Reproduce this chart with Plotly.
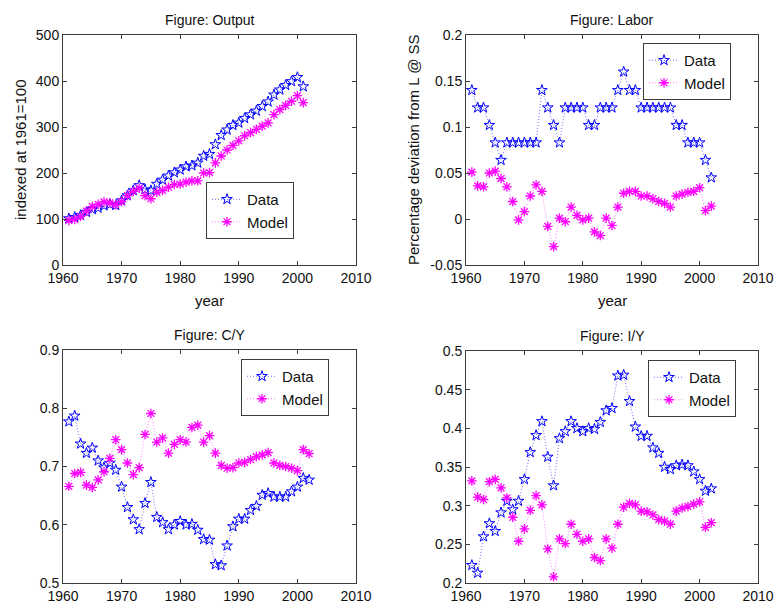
import plotly.graph_objects as go

# ---------------- data ----------------
years_out = list(range(1961, 2002))
output_data = [101, 104, 108, 115, 121, 124, 129, 132, 130, 140, 151, 162, 173, 164, 162,
               176, 185, 194, 201, 207, 214, 216, 222, 237, 241, 262, 282, 294, 304, 309,
               319, 327, 335, 345, 355, 370, 381, 391, 399, 408, 388]
output_model = [97, 99, 106, 117, 127, 132, 137, 135, 131, 138, 151, 160, 167, 151, 144,
                158, 162, 169, 175, 176, 180, 183, 183, 200, 201, 222, 237, 250, 260, 270,
                281, 288, 295, 302, 309, 327, 338, 347, 356, 368, 353]

years = list(range(1961, 2003))
labor_data = [0.140, 0.121, 0.121, 0.102, 0.083, 0.064, 0.083, 0.083, 0.083, 0.083, 0.083,
              0.083, 0.140, 0.121, 0.102, 0.083, 0.121, 0.121, 0.121, 0.121, 0.102, 0.102,
              0.121, 0.121, 0.121, 0.140, 0.160, 0.140, 0.140, 0.121, 0.121, 0.121, 0.121,
              0.121, 0.121, 0.102, 0.102, 0.083, 0.083, 0.083, 0.064, 0.045]
labor_model = [0.051, 0.036, 0.035, 0.050, 0.052, 0.044, 0.035, 0.019, -0.001, 0.008, 0.025,
               0.037, 0.030, -0.008, -0.030, 0.001, -0.003, 0.013, 0.004, -0.001, 0.001,
               -0.014, -0.018, 0.001, -0.007, 0.013, 0.028, 0.030, 0.030, 0.025, 0.025,
               0.022, 0.019, 0.017, 0.013, 0.025, 0.027, 0.029, 0.030, 0.034, 0.009, 0.014]

cy_data = [0.777, 0.787, 0.739, 0.723, 0.732, 0.710, 0.698, 0.706, 0.694, 0.665, 0.630,
           0.609, 0.592, 0.637, 0.673, 0.613, 0.604, 0.592, 0.600, 0.606, 0.600, 0.601,
           0.591, 0.575, 0.574, 0.532, 0.530, 0.564, 0.597, 0.610, 0.610, 0.625, 0.632,
           0.651, 0.654, 0.648, 0.648, 0.648, 0.657, 0.665, 0.680, 0.677]
cy_model = [0.666, 0.688, 0.690, 0.668, 0.664, 0.677, 0.691, 0.714, 0.746, 0.729, 0.706,
            0.686, 0.698, 0.755, 0.791, 0.742, 0.749, 0.723, 0.738, 0.746, 0.742, 0.767,
            0.771, 0.742, 0.753, 0.723, 0.702, 0.697, 0.698, 0.706, 0.707, 0.712, 0.717,
            0.720, 0.724, 0.706, 0.702, 0.700, 0.697, 0.693, 0.729, 0.722]

iy_data = [0.223, 0.213, 0.260, 0.277, 0.267, 0.291, 0.306, 0.295, 0.306, 0.334, 0.369,
           0.391, 0.409, 0.363, 0.326, 0.387, 0.396, 0.409, 0.400, 0.396, 0.400, 0.399,
           0.408, 0.423, 0.426, 0.468, 0.469, 0.435, 0.402, 0.390, 0.390, 0.375, 0.368,
           0.350, 0.347, 0.352, 0.353, 0.352, 0.344, 0.334, 0.319, 0.322]
iy_model = [0.332, 0.311, 0.308, 0.331, 0.334, 0.323, 0.310, 0.285, 0.254, 0.270, 0.294,
            0.313, 0.301, 0.244, 0.208, 0.257, 0.251, 0.276, 0.263, 0.254, 0.257, 0.233,
            0.229, 0.257, 0.245, 0.276, 0.298, 0.303, 0.301, 0.293, 0.292, 0.288, 0.282,
            0.280, 0.276, 0.293, 0.297, 0.299, 0.302, 0.305, 0.272, 0.278]

x_ticks = [1960, 1970, 1980, 1990, 2000, 2010]
x_ticklabels = ["1960", "1970", "1980", "1990", "2000", "2010"]
out_ticks = [0, 100, 200, 300, 400, 500]
out_ticklabels = ["0", "100", "200", "300", "400", "500"]
labor_ticks = [-0.05, 0, 0.05, 0.1, 0.15, 0.2]
labor_ticklabels = ["-0.05", "0", "0.05", "0.1", "0.15", "0.2"]
cy_ticks = [0.5, 0.6, 0.7, 0.8, 0.9]
cy_ticklabels = ["0.5", "0.6", "0.7", "0.8", "0.9"]
iy_ticks = [0.2, 0.25, 0.3, 0.35, 0.4, 0.45, 0.5]
iy_ticklabels = ["0.2", "0.25", "0.3", "0.35", "0.4", "0.45", "0.5"]

titles = ["Figure: Output", "Figure: Labor", "Figure: C/Y", "Figure: I/Y"]

# ---------------- figure ----------------
W, H = 780, 610
FONT = "Liberation Sans, Arial, sans-serif"
AX = "#3c3c3c"
TXT = "#111111"
BLUE = "#0000ff"
MAG = "#ff00ff"

# plot boxes in pixels: (left, right, top, bottom)
boxes = [(63, 356, 35, 265), (466, 758, 35, 265), (63, 356, 350, 583), (466, 758, 351, 583)]

fig = go.Figure()
fig.update_layout(template="none")

panels = [
    (years_out, output_data, output_model, out_ticks, out_ticklabels, [0, 500]),
    (years, labor_data, labor_model, labor_ticks, labor_ticklabels, [-0.05, 0.2]),
    (years, cy_data, cy_model, cy_ticks, cy_ticklabels, [0.5, 0.9]),
    (years, iy_data, iy_model, iy_ticks, iy_ticklabels, [0.2, 0.5]),
]
legend_pos = [(206, 182), (643, 43), (241, 359), (648, 360)]

for i, (xs, d, m, yt, ytl, yr) in enumerate(panels):
    n = i + 1
    xa = "x" if n == 1 else f"x{n}"
    ya = "y" if n == 1 else f"y{n}"
    lg = "legend" if n == 1 else f"legend{n}"
    fig.add_trace(go.Scatter(
        x=xs, y=d, name="Data", mode="lines+markers", xaxis=xa, yaxis=ya, legend=lg,
        line=dict(color="rgba(60,60,255,0.75)", width=1, dash="1px,2px"),
        marker=dict(symbol="star-open", size=8, color=BLUE, line=dict(color=BLUE, width=1)),
    ))
    fig.add_trace(go.Scatter(
        x=xs, y=m, name="Model", mode="lines+markers", xaxis=xa, yaxis=ya, legend=lg,
        line=dict(color="rgba(255,80,255,0.75)", width=1, dash="1px,2px"),
        marker=dict(symbol="asterisk-open", size=8, color=MAG, line=dict(color=MAG, width=1.3)),
    ))
    l, r, t, b = boxes[i]
    axkw = dict(showline=True, linecolor=AX, linewidth=1, mirror="ticks", ticks="inside",
                ticklen=4, tickcolor=AX, showgrid=False, zeroline=False, automargin=False,
                tickfont=dict(family=FONT, size=14, color=TXT))
    xkey = "xaxis" if n == 1 else f"xaxis{n}"
    ykey = "yaxis" if n == 1 else f"yaxis{n}"
    fig.update_layout(**{
        xkey: dict(domain=[l / W, r / W], anchor=ya, range=[1960, 2010],
                   tickvals=x_ticks, ticktext=x_ticklabels, **axkw),
        ykey: dict(domain=[1 - b / H, 1 - t / H], anchor=xa, range=yr,
                   tickvals=yt, ticktext=ytl, **axkw),
    })
    lx, ly = legend_pos[i]
    fig.update_layout(**{lg: dict(
        x=lx / W, y=1 - ly / H, xanchor="left", yanchor="top",
        bordercolor=AX, borderwidth=1, bgcolor="white",
        font=dict(family=FONT, size=15, color=TXT),
        tracegroupgap=0, itemwidth=30, entrywidth=66,
    )})
    # title
    fig.add_annotation(text=titles[i], x=(l + r) / 2 / W, y=1 - (t - 15) / H,
                       xref="paper", yref="paper", showarrow=False,
                       xanchor="center", yanchor="middle",
                       font=dict(family=FONT, size=14, color=TXT))

# axis labels
for cx in [(63 + 356) / 2, (466 + 758) / 2]:
    fig.add_annotation(text="year", x=cx / W, y=1 - 300 / H, xref="paper", yref="paper",
                       showarrow=False, xanchor="center", yanchor="middle",
                       font=dict(family=FONT, size=15, color=TXT))
fig.add_annotation(text="indexed at 1961=100", x=20 / W, y=1 - 150 / H, xref="paper", yref="paper",
                   showarrow=False, textangle=-90, xanchor="center", yanchor="middle",
                   font=dict(family=FONT, size=15, color=TXT))
fig.add_annotation(text="Percentage deviation from L @ SS", x=413 / W, y=1 - 150 / H,
                   xref="paper", yref="paper", showarrow=False, textangle=-90,
                   xanchor="center", yanchor="middle",
                   font=dict(family=FONT, size=15, color=TXT))

fig.update_layout(width=W, height=H,
                  margin=dict(l=0, r=0, t=0, b=0, pad=0, autoexpand=False),
                  paper_bgcolor="white", plot_bgcolor="white", showlegend=True)

fig.write_html("out.html", config={"displayModeBar": False},
               post_script="document.body.style.margin='0';document.body.style.padding='0';"
                           "document.documentElement.style.overflow='hidden';")
